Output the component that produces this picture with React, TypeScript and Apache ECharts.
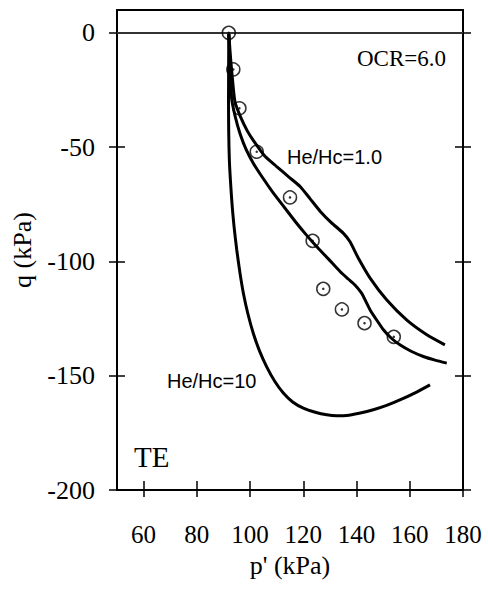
import React, { useEffect, useRef } from "react";
import * as echarts from "echarts";

const xTicks = [60, 80, 100, 120, 140, 160, 180];
const yTicks = [-200, -150, -100, -50, 0];

const measured: [number, number][] = [
  [92, 0], [93.7, -16], [96, -33], [102.5, -52], [115, -72],
  [123.5, -91], [127.5, -112], [134.5, -121], [143, -127], [154, -133],
];

const curveUpper: [number, number][] = [
  [92, 0], [92.6, -10], [93.2, -18], [94.3, -30], [96.5, -37], [99, -43],
  [101.2, -47], [105.6, -54], [110, -58.5], [114.5, -63], [118.8, -67.2],
  [122.5, -72.5], [126.3, -78], [130.5, -83], [135, -87.6], [137.5, -91.3],
  [140.7, -98.6], [145.1, -107.3], [151.3, -116.8], [158.8, -125.6],
  [166.4, -132.1], [173.2, -136.5],
];

const curveMiddle: [number, number][] = [
  [92, 0], [92.4, -12], [93.1, -29], [94.5, -37], [96.2, -44], [98.5, -51],
  [101.2, -57], [104.8, -63.5], [108.7, -70], [113, -76.5], [117.5, -83.3],
  [121.2, -88.5], [125, -93.5], [129.5, -99], [133.8, -104.4], [137, -107.8],
  [139.4, -110.3], [141.9, -113.9], [143.5, -117.5], [145.1, -121.2],
  [147.5, -125.5], [150.1, -129.9], [153, -133.5], [156.3, -136.5],
  [160.5, -139.3], [165.1, -141.6], [169.5, -143.2], [173.9, -144.5],
];

const curveLower: [number, number][] = [
  [92, 0], [91.9, -29], [92.2, -55], [93.1, -73], [94, -85], [95, -95],
  [96.2, -105], [97.5, -114], [99.2, -123], [101.2, -131.4], [103.5, -139],
  [106.2, -146], [109.2, -152.3], [112.5, -157.6], [116, -161.5],
  [120, -164.2], [124.5, -166], [128.8, -167.1], [132.5, -167.5],
  [136.3, -167.4], [141, -166.4], [146.3, -164.9], [151.3, -163],
  [156.3, -160.6], [162, -157.5], [167.6, -154],
];

const SERIF = "'Liberation Serif', 'Times New Roman', serif";
const SANS = "'Liberation Sans', Arial, sans-serif";

export default function App() {
  const ref = useRef<HTMLDivElement>(null);
  useEffect(() => {
    if (!ref.current) return;
    const chart = echarts.init(ref.current, null, { renderer: "svg" });
    const lineStyle = { color: "#000", width: 2 };
    const tickStyle = { color: "#000", width: 1.5 };
    const xBase = { type: "value", min: 50, max: 180, splitLine: { show: false } };
    const yBase = { type: "value", min: -200, max: 10, splitLine: { show: false } };
    const hiddenLabel = { show: false };
    chart.setOption({
      animation: false,
      backgroundColor: "#fff",
      textStyle: { fontFamily: SERIF },
      grid: { left: 117, right: 25, top: 10, bottom: 107 },
      xAxis: [
        {
          ...xBase,
          position: "bottom",
          name: "p' (kPa)",
          nameLocation: "middle",
          nameGap: 62,
          nameTextStyle: { fontFamily: SERIF, fontSize: 26, color: "#000" },
          axisLine: { show: true, onZero: false, lineStyle },
          axisTick: { show: true, inside: false, length: 7, customValues: xTicks, lineStyle: tickStyle },
          axisLabel: { show: true, margin: 32, customValues: xTicks, fontFamily: SERIF, fontSize: 25, color: "#000" },
        },
        {
          ...xBase,
          position: "bottom",
          axisLine: { show: false, onZero: false },
          axisTick: { show: true, inside: true, length: 9, customValues: xTicks, lineStyle: tickStyle },
          axisLabel: hiddenLabel,
        },
        {
          ...xBase,
          position: "top",
          axisLine: { show: true, onZero: false, lineStyle },
          axisTick: { show: false },
          axisLabel: hiddenLabel,
        },
      ],
      yAxis: [
        {
          ...yBase,
          position: "left",
          name: "q (kPa)",
          nameLocation: "middle",
          nameGap: 82,
          nameTextStyle: { fontFamily: SERIF, fontSize: 26, color: "#000" },
          axisLine: { show: true, onZero: false, lineStyle },
          axisTick: { show: true, inside: false, length: 8, customValues: yTicks, lineStyle: tickStyle },
          axisLabel: { show: true, margin: 22, customValues: yTicks, fontFamily: SERIF, fontSize: 26, color: "#000" },
        },
        {
          ...yBase,
          position: "left",
          axisLine: { show: false, onZero: false },
          axisTick: { show: true, inside: true, length: 8, customValues: yTicks, lineStyle: tickStyle },
          axisLabel: hiddenLabel,
        },
        {
          ...yBase,
          position: "right",
          axisLine: { show: true, onZero: false, lineStyle },
          axisTick: { show: true, inside: false, length: 8, customValues: yTicks, lineStyle: tickStyle },
          axisLabel: hiddenLabel,
        },
        {
          ...yBase,
          position: "right",
          axisLine: { show: false, onZero: false },
          axisTick: { show: true, inside: true, length: 8, customValues: yTicks, lineStyle: tickStyle },
          axisLabel: hiddenLabel,
        },
      ],
      series: [
        {
          type: "line",
          name: "zero",
          data: [],
          markLine: {
            silent: true,
            symbol: "none",
            label: { show: false },
            lineStyle: { color: "#333", width: 2.2, type: "solid" },
            data: [{ yAxis: 0 }],
          },
        },
        {
          type: "line",
          name: "He/Hc=1.0 upper",
          data: curveUpper,
          showSymbol: false,
          smooth: 0.2,
          lineStyle: { color: "#000", width: 3 },
        },
        {
          type: "line",
          name: "He/Hc middle",
          data: curveMiddle,
          showSymbol: false,
          smooth: 0.2,
          lineStyle: { color: "#000", width: 3 },
        },
        {
          type: "line",
          name: "He/Hc=10",
          data: curveLower,
          showSymbol: false,
          smooth: 0.2,
          lineStyle: { color: "#000", width: 3 },
        },
        {
          type: "scatter",
          name: "measured",
          data: measured,
          symbol: "circle",
          symbolSize: 13,
          itemStyle: { color: "rgba(255,255,255,0)", borderColor: "#000", borderWidth: 1.5 },
          z: 5,
        },
        {
          type: "scatter",
          name: "measured-dot",
          data: measured,
          symbol: "circle",
          symbolSize: 2.5,
          itemStyle: { color: "#000" },
          z: 6,
        },
      ],
      graphic: [
        {
          type: "text",
          x: 357,
          y: 58,
          style: { text: "OCR=6.0", fontFamily: SERIF, fontSize: 23, fill: "#000", verticalAlign: "middle", align: "left" },
        },
        {
          type: "text",
          x: 287,
          y: 157,
          style: { text: "He/Hc=1.0", fontFamily: SANS, fontSize: 20, fill: "#000", verticalAlign: "middle", align: "left" },
        },
        {
          type: "text",
          x: 167,
          y: 381,
          style: { text: "He/Hc=10", fontFamily: SANS, fontSize: 20, fill: "#000", verticalAlign: "middle", align: "left" },
        },
        {
          type: "text",
          x: 134,
          y: 457,
          style: { text: "TE", fontFamily: SERIF, fontSize: 29, fill: "#000", verticalAlign: "middle", align: "left" },
        },
      ],
    });
    return () => chart.dispose();
  }, []);
  return (
    <div
      ref={ref}
      style={{ position: "fixed", left: 0, top: 0, width: 488, height: 597, background: "#fff" }}
    />
  );
}
